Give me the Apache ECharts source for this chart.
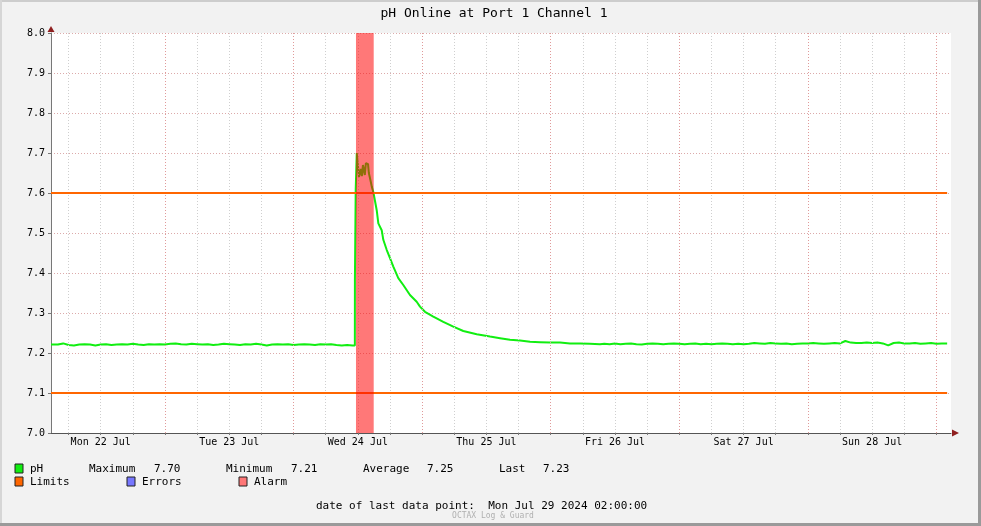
<!DOCTYPE html>
<html><head><meta charset="utf-8">
<script src="https://cdn.jsdelivr.net/npm/echarts@6/dist/echarts.min.js"></script>
<style>html,body{margin:0;padding:0;background:#f2f2f2}#c{width:981px;height:526px}</style>
</head><body><div id="c"></div>
<script>
// ---- data (hours since Mon 22 Jul 2024 00:00) ----
const chartTitle = 'pH Online at Port 1 Channel 1';
const hours = [2.72,3,4,5,6,7,8,9,10,11,12,13,14,15,16,17,18,19,20,21,22,23,24,25,26,27,28,29,30,31,32,33,34,35,36,37,38,39,40,41,42,43,44,45,46,47,48,49,50,51,52,53,54,55,56,57,58,59,59.44,
  59.45,59.58,59.6,59.78,59.8,60.15,60.2,60.5,60.55,60.7,60.75,60.9,60.95,61.25,61.3,61.45,61.5,61.9,62.05,62.27,62.6,62.9,63.2,63.52,63.82,64.45,64.75,65.38,66.0,66.62,67.55,68.48,69.73,70.98,71.6,72.53,74.08,75.95,77.82,79.68,82.19,84.67,86.54,88.4,90.27,92.14,94.0,95.87,97.74,99.6,101.5,103.3,105.2,
  106,107,108,109,110,111,112,113,114,115,116,117,118,119,120,121,122,123,124,125,126,127,128,129,130,131,132,133,134,135,136,137,138,139,140,141,142,143,144,145,146,147,148,149,150,151,152,153,154,155,156,157,158,159,160,161,162,163,164,165,166,167,168,169,170];
const ph = [7.221,7.222,7.221,7.224,7.220,7.219,7.221,7.222,7.221,7.219,7.221,7.222,7.220,7.221,7.222,7.221,7.223,7.221,7.220,7.222,7.221,7.222,7.221,7.223,7.224,7.222,7.221,7.223,7.222,7.221,7.222,7.220,7.221,7.223,7.222,7.221,7.220,7.222,7.221,7.223,7.221,7.219,7.221,7.222,7.221,7.222,7.220,7.221,7.222,7.221,7.220,7.222,7.221,7.222,7.220,7.219,7.220,7.219,7.219,
  7.380,7.380,7.609,7.609,7.700,7.700,7.640,7.640,7.660,7.660,7.642,7.645,7.670,7.670,7.645,7.645,7.675,7.672,7.650,7.637,7.616,7.602,7.580,7.557,7.524,7.507,7.483,7.458,7.437,7.416,7.387,7.370,7.345,7.328,7.316,7.303,7.291,7.278,7.266,7.255,7.247,7.241,7.237,7.233,7.231,7.228,7.227,7.226,7.226,7.224,7.224,7.223,7.222,
  7.223,7.222,7.224,7.222,7.223,7.224,7.222,7.221,7.223,7.224,7.223,7.222,7.223,7.224,7.223,7.222,7.223,7.224,7.222,7.223,7.222,7.223,7.224,7.223,7.222,7.223,7.222,7.223,7.225,7.224,7.223,7.225,7.224,7.223,7.224,7.222,7.223,7.224,7.224,7.225,7.224,7.223,7.224,7.225,7.224,7.230,7.226,7.225,7.225,7.226,7.225,7.226,7.224,7.219,7.225,7.226,7.224,7.224,7.225,7.223,7.224,7.225,7.223,7.224,7.224];
const limitValues = [7.6, 7.1];
const limitStart = 2.72, limitEnd = 170;
const viewMin = 2.72, viewMax = 170.72;
const alarmRange = [59.65, 62.96];
const dayLabelHours = [12, 36, 60, 84, 108, 132, 156];
const dayLabels = ['Mon 22 Jul','Tue 23 Jul','Wed 24 Jul','Thu 25 Jul','Fri 26 Jul','Sat 27 Jul','Sun 28 Jul'];
const minorGridHours = [6,12,18,30,36,42,54,60,66,78,84,90,102,108,114,126,132,138,150,156,162];
const majorGridHours = [24,48,72,96,120,144,168];
const yMin = 7.0, yMax = 8.0, yStep = 0.1;
const statNames = ['Maximum','Minimum','Average','Last'];
const statValues = ['7.70','7.21','7.25','7.23'];
const legendItems = ['pH','Limits','Errors','Alarm'];
const lastDataText = 'date of last data point:  Mon Jul 29 2024 02:00:00';
const footerText = 'OCTAX Log & Guard';

// ---- chart ----
const mono = '"DejaVu Sans Mono", monospace';
const lineData = hours.map((h, i) => [h, ph[i]]);
const dot = [1, 2];
const gridLines = minorGridHours.map(v => ({xAxis: v, lineStyle: {color: '#cfcfcf', width: 1, type: dot}}))
  .concat(majorGridHours.map(v => ({xAxis: v, lineStyle: {color: '#e09a9a', width: 1, type: dot}})));

const chart = echarts.init(document.getElementById('c'), null, {renderer: 'canvas'});
const txt = (x, y, s, opt) => Object.assign({type: 'text', x: x, y: y, silent: true,
  style: Object.assign({text: s, font: '11px ' + mono, fill: '#000', textVerticalAlign: 'middle'}, opt || {})});
const sw = (x, y, color) => ({type: 'rect', shape: {x: x, y: y, width: 8, height: 9}, silent: true,
  style: {fill: color, stroke: '#222', lineWidth: 1}});

const statX = [[89,154],[226,291],[363,427],[499,543]];
const graphics = [
  {type: 'rect', shape: {x: 0, y: 0, width: 981, height: 2}, style: {fill: '#cdcdcd'}, silent: true},
  {type: 'rect', shape: {x: 0, y: 0, width: 2, height: 526}, style: {fill: '#d6d6d6'}, silent: true},
  {type: 'rect', shape: {x: 978, y: 0, width: 3, height: 526}, style: {fill: '#9a9a9a'}, silent: true},
  {type: 'rect', shape: {x: 0, y: 523, width: 981, height: 3}, style: {fill: '#9a9a9a'}, silent: true},
  txt(494, 14, chartTitle, {font: '13px ' + mono, textAlign: 'center'}),
  {type: 'polygon', shape: {points: [[959,433],[952,429.5],[952,436.5]]}, style: {fill: '#8f1f1f'}, silent: true, z: 100},
  {type: 'polygon', shape: {points: [[51,26],[47.5,32],[54.5,32]]}, style: {fill: '#8f1f1f'}, silent: true, z: 100},
  sw(15, 464, '#11ee11'), txt(30, 469, legendItems[0]),
  sw(15, 477, '#ff6600'), txt(30, 482, legendItems[1]),
  sw(127, 477, '#7777ff'), txt(142, 482, legendItems[2]),
  sw(239, 477, '#ff7777'), txt(254, 482, legendItems[3]),
  txt(316, 506, lastDataText),
  txt(493, 516, footerText, {font: '8px ' + mono, fill: '#b0b0b0', textAlign: 'center'})
];
statNames.forEach((n, i) => {
  graphics.push(txt(statX[i][0], 469, n));
  graphics.push(txt(statX[i][1], 469, statValues[i]));
});

chart.setOption({
  backgroundColor: '#f2f2f2',
  animation: false,
  grid: {left: 51, top: 33, right: 30, bottom: 93, show: true, backgroundColor: '#ffffff', borderWidth: 0},
  xAxis: {
    type: 'value', min: viewMin, max: viewMax,
    axisLine: {show: true, lineStyle: {color: '#555', width: 1}},
    axisTick: {show: true, length: 2, customValues: minorGridHours.concat(majorGridHours), lineStyle: {color: '#777'}},
    axisLabel: {customValues: dayLabelHours, margin: 4, fontFamily: mono, fontSize: 10, color: '#000',
      formatter: v => { const i = dayLabelHours.indexOf(Math.round(v)); return i >= 0 ? dayLabels[i] : ''; }},
    splitLine: {show: false}
  },
  yAxis: {
    type: 'value', min: yMin, max: yMax, interval: yStep,
    axisLine: {show: true, lineStyle: {color: '#777', width: 1}},
    axisTick: {show: true, length: 3, lineStyle: {color: '#777'}},
    axisLabel: {margin: 6, fontFamily: mono, fontSize: 10, color: '#000', formatter: v => v.toFixed(1)},
    splitLine: {show: true, lineStyle: {color: '#dcaaaa', width: 1, type: dot}}
  },
  graphic: graphics,
  series: [
    {type: 'line', name: 'grid', data: [], z: 1, silent: true,
      markLine: {silent: true, symbol: ['none','none'], label: {show: false}, animation: false, data: gridLines}},
    {type: 'line', name: 'Limits', z: 3, silent: true, symbol: 'none',
      data: [], markLine: {silent: true, symbol: ['none','none'], label: {show: false}, animation: false,
        data: limitValues.map(v => [{coord: [limitStart, v]}, {coord: [limitEnd, v]}]),
        lineStyle: {color: '#ff6600', width: 2, type: 'solid'}}},
    {type: 'line', name: 'pH', data: lineData, symbol: 'none', z: 4,
      lineStyle: {color: '#11ee11', width: 2}},
    {type: 'line', name: 'Alarm', data: [], z: 10, silent: true,
      markArea: {z: 10, silent: true, itemStyle: {color: 'rgba(255,0,0,0.53)'},
        data: [[{xAxis: alarmRange[0], yAxis: yMin}, {xAxis: alarmRange[1], yAxis: yMax}]]}}
  ]
});
</script>
</body></html>
